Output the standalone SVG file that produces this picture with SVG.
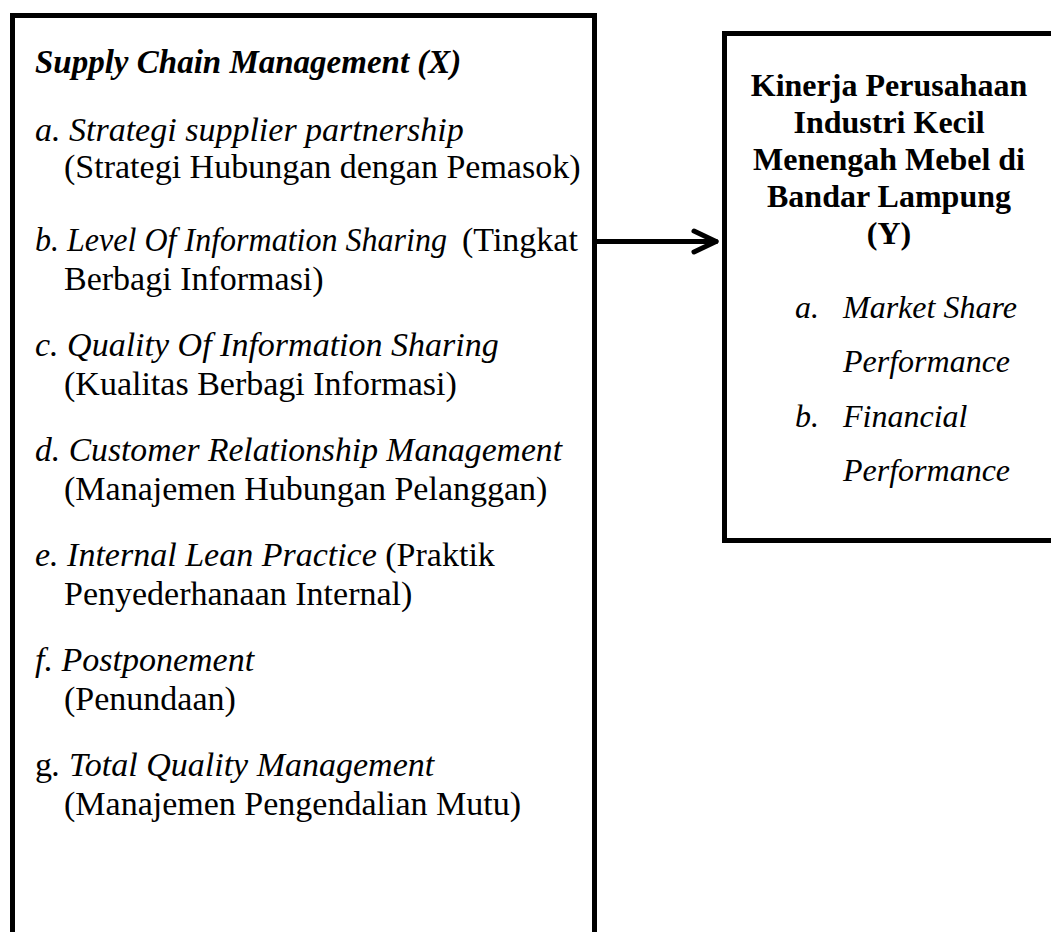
<svg xmlns="http://www.w3.org/2000/svg" width="1051" height="932" viewBox="0 0 1051 932">
<style>
.box{fill:#fff;stroke:#000;stroke-width:5}
.t{font-family:"Liberation Serif","Times New Roman",serif;font-size:34px;fill:#000}
.i{font-style:italic}
.b{font-weight:bold}
.h{font-size:33px}
.r{font-size:32px}
.conn{stroke:#000;stroke-width:5;fill:none;stroke-linecap:round;stroke-linejoin:round}
</style>
<rect width="1051" height="932" fill="#fff"/>
<g id="node-x">
<rect class="box" x="12.5" y="15.5" width="582" height="940"/>
<text class="t i b h" x="35" y="73">Supply Chain Management (X)</text>
<text class="t" x="35" y="141"><tspan class="i">a. Strategi supplier partnership</tspan></text>
<text class="t" x="64" y="178">(Strategi Hubungan dengan Pemasok)</text>
<text class="t i" x="35" y="251" textLength="412" lengthAdjust="spacingAndGlyphs">b. Level Of Information Sharing</text>
<text class="t" x="462" y="251">(Tingkat</text>
<text class="t" x="64" y="290">Berbagi Informasi)</text>
<text class="t" x="35" y="356"><tspan class="i">c. Quality Of Information Sharing</tspan></text>
<text class="t" x="64" y="395">(Kualitas Berbagi Informasi)</text>
<text class="t i" x="35" y="461" textLength="527" lengthAdjust="spacingAndGlyphs">d. Customer Relationship Management</text>
<text class="t" x="64" y="500">(Manajemen Hubungan Pelanggan)</text>
<text class="t" x="35" y="566"><tspan class="i">e. Internal Lean Practice</tspan> (Praktik</text>
<text class="t" x="64" y="605">Penyederhanaan Internal)</text>
<text class="t" x="35" y="671"><tspan class="i">f. Postponement</tspan></text>
<text class="t" x="64" y="710">(Penundaan)</text>
<text class="t" x="35" y="776">g<tspan class="i">. Total Quality Management</tspan></text>
<text class="t" x="64" y="815">(Manajemen Pengendalian Mutu)</text>
</g>
<g id="node-y">
<rect class="box" x="724.5" y="33.5" width="340" height="507"/>
<text class="t b r" text-anchor="middle" x="889" y="96">Kinerja Perusahaan</text>
<text class="t b r" text-anchor="middle" x="889" y="133">Industri Kecil</text>
<text class="t b r" text-anchor="middle" x="889" y="170">Menengah Mebel di</text>
<text class="t b r" text-anchor="middle" x="889" y="207">Bandar Lampung</text>
<text class="t b r" text-anchor="middle" x="889" y="244">(Y)</text>
<text class="t i r" x="795" y="318">a.</text>
<text class="t i r" x="843" y="318">Market Share</text>
<text class="t i r" x="843" y="372">Performance</text>
<text class="t i r" x="795" y="427">b.</text>
<text class="t i r" x="843" y="427">Financial</text>
<text class="t i r" x="843" y="481">Performance</text>
</g>
<g id="connectors">
<path class="conn" d="M597 241.5 H716"/>
<path class="conn" d="M694 231 L716 241.5 L694 252"/>
</g>
</svg>
